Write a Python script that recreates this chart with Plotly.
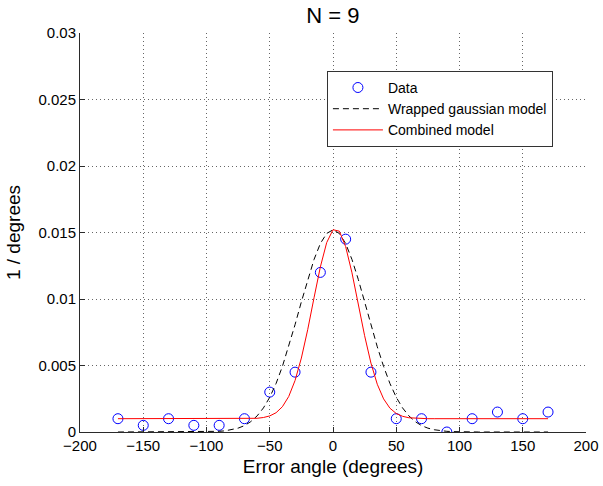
import plotly.graph_objects as go

# Data points
data_x = [-170, -150, -130, -110, -90, -70, -50, -30, -10, 10, 30, 50, 70, 90, 110, 130, 150, 170]
data_y = [0.001, 0.0005, 0.001, 0.0005, 0.0005, 0.001, 0.003, 0.0045, 0.012, 0.0145,
          0.0045, 0.001, 0.001, 0.0, 0.001, 0.0015, 0.001, 0.0015]

model_x = [-170, -165, -160, -155, -150, -145, -140, -135, -130, -125, -120, -115, -110, -105,
           -100, -95, -90, -85, -80, -75, -70, -65, -60, -55, -50, -45, -40, -35, -30, -25,
           -20, -15, -10, -5, 0, 5, 10, 15, 20, 25, 30, 35, 40, 45, 50, 55, 60, 65, 70, 75,
           80, 85, 90, 95, 100, 105, 110, 115, 120, 125, 130, 135, 140, 145, 150, 155, 160,
           165, 170]

wrapped_y = [0, 0, 0, 0, 0, 0, 0, 0, 0, 0, 0, 0, 0, 0,
             0.00001, 0.00003, 0.00005, 0.00009, 0.00017, 0.00029, 0.00048, 0.00078, 0.00121,
             0.00181, 0.00261, 0.00365, 0.00493, 0.00641, 0.00807, 0.00979,
             0.01147, 0.01297, 0.01417, 0.01493, 0.0152, 0.01493, 0.01417, 0.01297, 0.01147,
             0.00979, 0.00807, 0.00641, 0.00493, 0.00365, 0.00261, 0.00181, 0.00121, 0.00078,
             0.00048, 0.00029, 0.00017, 0.00009, 0.00005, 0.00003, 0.00001,
             0, 0, 0, 0, 0, 0, 0, 0, 0, 0, 0, 0, 0, 0]

combined_y = [0.001, 0.001, 0.001, 0.001, 0.001, 0.001, 0.001, 0.001, 0.001, 0.001, 0.001,
              0.001, 0.001, 0.001, 0.001, 0.001, 0.001, 0.001, 0.001, 0.001,
              0.00100, 0.00101, 0.00103, 0.00109, 0.00121, 0.00145, 0.00190, 0.00267,
              0.00387, 0.00556, 0.00769, 0.01009, 0.01241, 0.01424, 0.01521, 0.01510,
              0.01394, 0.01197, 0.00961, 0.00724, 0.00518, 0.00359, 0.00249, 0.00179,
              0.00139, 0.00118, 0.00107, 0.00103, 0.00101, 0.001, 0.001, 0.001, 0.001,
              0.001, 0.001, 0.001, 0.001, 0.001, 0.001, 0.001, 0.001, 0.001, 0.001, 0.001,
              0.001, 0.001, 0.001, 0.001, 0.001]

x_ticks = [-200, -150, -100, -50, 0, 50, 100, 150, 200]
y_ticks = [0, 0.005, 0.01, 0.015, 0.02, 0.025, 0.03]
y_tick_labels = ["0", "0.005", "0.01", "0.015", "0.02", "0.025", "0.03"]

FONT = "Liberation Sans, Arial, Helvetica, sans-serif"
AXC = "#2a2a2a"
GRIDC = "#666666"

fig = go.Figure()
fig.add_trace(go.Scatter(
    x=data_x, y=data_y, mode="markers", name="Data",
    marker=dict(symbol="circle-open", size=10, color="#0000ff", line=dict(width=1, color="#0000ff")),
))
fig.add_trace(go.Scatter(
    x=model_x, y=wrapped_y, mode="lines", name="Wrapped gaussian model",
    line=dict(color="black", width=1, dash="6px,4px"),
))
fig.add_trace(go.Scatter(
    x=model_x, y=combined_y, mode="lines", name="Combined model",
    line=dict(color="#ff0000", width=1),
))

fig.update_layout(
    width=603, height=486,
    margin=dict(l=80, r=17, t=33, b=54),
    paper_bgcolor="white", plot_bgcolor="white",
    font=dict(family=FONT, size=15, color="black"),
    title=dict(text="N = 9", x=0.552, xanchor="center", y=0.969, yanchor="middle",
               font=dict(size=22, family=FONT)),
    showlegend=True,
    legend=dict(x=0.488, y=0.905, xanchor="left", yanchor="top",
                bordercolor="#333333", borderwidth=1, bgcolor="white",
                font=dict(size=14, family=FONT), tracegroupgap=0, itemwidth=50),
    xaxis=dict(
        range=[-200, 200], tickvals=x_ticks, ticks="inside", ticklen=5, tickcolor=AXC,
        showline=True, linecolor=AXC, linewidth=1, mirror=False, automargin=False,
        showgrid=True, gridcolor=GRIDC, griddash="1px,3px", gridwidth=1, zeroline=False,
        title=dict(text="Error angle (degrees)", font=dict(size=19, family=FONT), standoff=6),
        tickfont=dict(size=15),
    ),
    yaxis=dict(
        range=[0, 0.03], tickvals=y_ticks, ticktext=y_tick_labels, ticks="inside", ticklen=5,
        tickcolor=AXC, showline=True, linecolor=AXC, linewidth=1, mirror=False, automargin=False,
        showgrid=True, gridcolor=GRIDC, griddash="1px,3px", gridwidth=1, zeroline=False,
        title=dict(text="1 / degrees", font=dict(size=19, family=FONT), standoff=12),
        tickfont=dict(size=15),
    ),
)

fig.write_html("out.html", config={"displayModeBar": False},
               post_script="document.body.style.margin='0';")
